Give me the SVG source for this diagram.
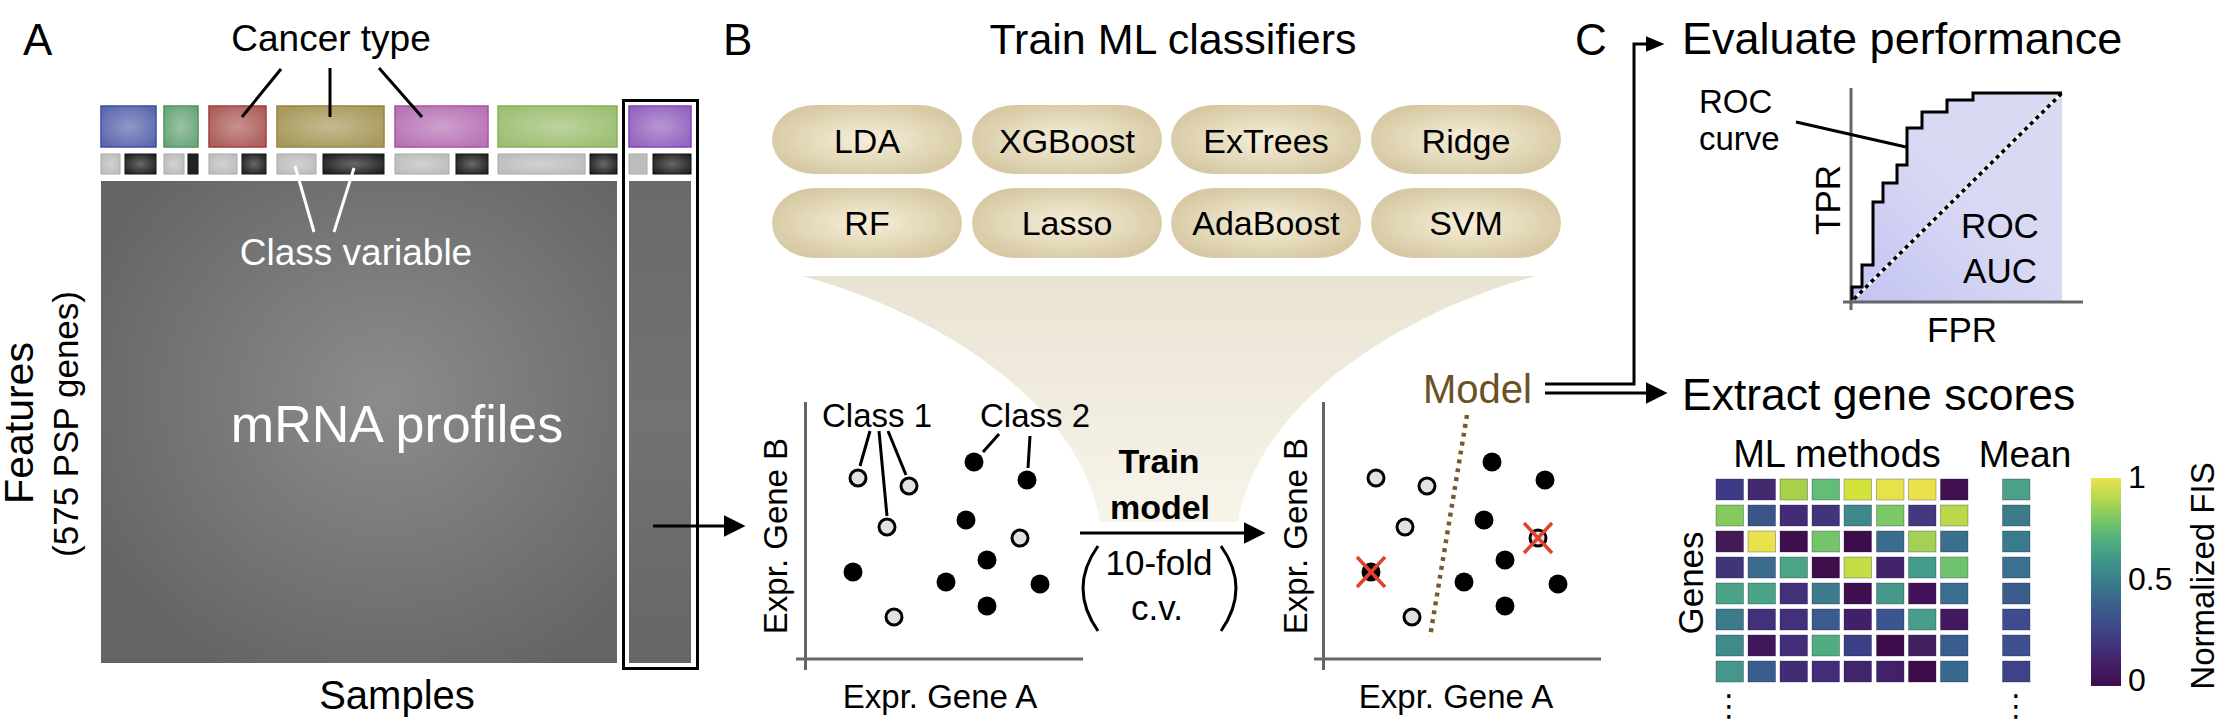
<svg xmlns="http://www.w3.org/2000/svg" width="2220" height="728" viewBox="0 0 2220 728">
<style>
text{font-family:'Liberation Sans',Arial,Helvetica,sans-serif;fill:#000}
.pl{font-size:44px}
.mid{text-anchor:middle}
.ax{stroke:#666;stroke-width:3;fill:none}
.ln{stroke:#000;stroke-width:3;fill:none}
.wl{stroke:#fff;stroke-width:3;fill:none}
.op{fill:#e2e2e2;stroke:#000;stroke-width:3}
.fd{fill:#000}
.rx{stroke:#e2422d;stroke-width:3.5}
.pt{font-size:34px;text-anchor:middle}
.lab{font-size:33px}
.sh{fill:url(#sheen)}
.lt{fill:#bdbdbd;stroke:#a8a8a8;stroke-width:1}
.dk{fill:#222;stroke:#111;stroke-width:1}
.hm rect{stroke:#14143c;stroke-opacity:.3;stroke-width:1}
</style>
<defs>
<radialGradient id="sheen" cx="0.5" cy="0.5" r="0.6">
<stop offset="0" stop-color="#fff" stop-opacity="0.32"/>
<stop offset="1" stop-color="#fff" stop-opacity="0"/>
</radialGradient>
<radialGradient id="mainG" cx="0.55" cy="0.45" r="0.65">
<stop offset="0" stop-color="#8c8c8c"/>
<stop offset="1" stop-color="#646464"/>
</radialGradient>
<linearGradient id="colG" x1="0" y1="0" x2="0" y2="1">
<stop offset="0" stop-color="#6a6a6a"/>
<stop offset="0.5" stop-color="#727272"/>
<stop offset="1" stop-color="#666"/>
</linearGradient>
<radialGradient id="pillG" cx="0.5" cy="0.5" r="0.55">
<stop offset="0" stop-color="#f6efda"/>
<stop offset="1" stop-color="#d6c9a3"/>
</radialGradient>
<linearGradient id="funG" x1="0" y1="0" x2="0" y2="1">
<stop offset="0" stop-color="#e9e3d2"/>
<stop offset="1" stop-color="#f7f4ea"/>
</linearGradient>
<linearGradient id="rocG" x1="0" y1="1" x2="1" y2="0">
<stop offset="0" stop-color="#c2c3f2"/>
<stop offset="0.5" stop-color="#d8d8f4"/>
<stop offset="1" stop-color="#dadaf2"/>
</linearGradient>
<linearGradient id="vir" x1="0" y1="0" x2="0" y2="1">
<stop offset="0" stop-color="#ebe24f"/>
<stop offset="0.1" stop-color="#b5d74e"/>
<stop offset="0.2" stop-color="#7ac765"/>
<stop offset="0.3" stop-color="#4fae80"/>
<stop offset="0.4" stop-color="#3f958a"/>
<stop offset="0.5" stop-color="#3b7b8b"/>
<stop offset="0.6" stop-color="#3b638c"/>
<stop offset="0.7" stop-color="#3d4b8a"/>
<stop offset="0.8" stop-color="#42357e"/>
<stop offset="0.9" stop-color="#431e65"/>
<stop offset="1" stop-color="#3f0c4e"/>
</linearGradient>
<marker id="ah" viewBox="0 0 22 22" markerWidth="22" markerHeight="22" refX="0.5" refY="11" orient="auto" markerUnits="userSpaceOnUse"><path d="M0,0 L22,11 L0,22z" fill="#000"/></marker>
<marker id="ahs" viewBox="0 0 19 16" markerWidth="19" markerHeight="16" refX="0.5" refY="8" orient="auto" markerUnits="userSpaceOnUse"><path d="M0,0 L19,8 L0,16z" fill="#000"/></marker>
</defs>
<rect width="2220" height="728" fill="#fff"/>

<!-- Panel labels -->
<text class="pl" x="23" y="55">A</text>
<text class="pl" x="723" y="55">B</text>
<text class="pl" x="1575" y="55">C</text>

<!-- Panel A -->
<g id="selection-box">
<rect x="623.5" y="100.5" width="74" height="568" fill="#fff" stroke="#000" stroke-width="3"/>
</g>
<g id="cancer-types">
<rect x="101" y="106" width="55" height="41" fill="#5d69ae" stroke="#3e4b9e" stroke-width="1.5"/>
<rect x="164" y="106" width="34" height="41" fill="#6aa77a" stroke="#4f9060" stroke-width="1.5"/>
<rect x="209" y="106" width="57" height="41" fill="#ad5f5c" stroke="#a03c3c" stroke-width="1.5"/>
<rect x="277" y="106" width="107" height="41" fill="#a89a5c" stroke="#93843c" stroke-width="1.5"/>
<rect x="395" y="106" width="93" height="41" fill="#b874b6" stroke="#a8509f" stroke-width="1.5"/>
<rect x="498" y="106" width="119" height="41" fill="#9ebf72" stroke="#88ad55" stroke-width="1.5"/>
<rect x="629" y="106" width="62" height="41" fill="#9565c0" stroke="#7e45b0" stroke-width="1.5"/>
<rect class="sh" x="101" y="106" width="55" height="41"/>
<rect class="sh" x="164" y="106" width="34" height="41"/>
<rect class="sh" x="209" y="106" width="57" height="41"/>
<rect class="sh" x="277" y="106" width="107" height="41"/>
<rect class="sh" x="395" y="106" width="93" height="41"/>
<rect class="sh" x="498" y="106" width="119" height="41"/>
<rect class="sh" x="629" y="106" width="62" height="41"/>
</g>
<g id="class-variable">
<rect class="lt" x="101" y="154" width="19" height="20"/>
<rect class="dk" x="125" y="154" width="31" height="20"/>
<rect class="lt" x="164" y="154" width="20" height="20"/>
<rect class="dk" x="188" y="154" width="10" height="20"/>
<rect class="lt" x="209" y="154" width="28" height="20"/>
<rect class="dk" x="242" y="154" width="24" height="20"/>
<rect class="lt" x="277" y="154" width="39" height="20"/>
<rect class="dk" x="323" y="154" width="61" height="20"/>
<rect class="lt" x="395" y="154" width="54" height="20"/>
<rect class="dk" x="456" y="154" width="32" height="20"/>
<rect class="lt" x="498" y="154" width="87" height="20"/>
<rect class="dk" x="590" y="154" width="27" height="20"/>
<rect class="lt" x="629" y="154" width="18" height="20"/>
<rect class="dk" x="653" y="154" width="38" height="20"/>
<rect class="sh" x="101" y="154" width="19" height="20"/>
<rect class="sh" x="125" y="154" width="31" height="20"/>
<rect class="sh" x="164" y="154" width="20" height="20"/>
<rect class="sh" x="209" y="154" width="28" height="20"/>
<rect class="sh" x="242" y="154" width="24" height="20"/>
<rect class="sh" x="277" y="154" width="39" height="20"/>
<rect class="sh" x="323" y="154" width="61" height="20"/>
<rect class="sh" x="395" y="154" width="54" height="20"/>
<rect class="sh" x="456" y="154" width="32" height="20"/>
<rect class="sh" x="498" y="154" width="87" height="20"/>
<rect class="sh" x="590" y="154" width="27" height="20"/>
<rect class="sh" x="653" y="154" width="38" height="20"/>
</g>
<g id="mrna-matrix">
<rect x="101" y="181" width="516" height="482" fill="url(#mainG)"/>
<text x="397" y="442" font-size="52" class="mid" style="fill:#fff">mRNA profiles</text>
</g>
<g id="sample-column">
<rect x="629" y="181" width="62" height="482" fill="url(#colG)"/>
</g>
<g id="labels-A">
<text x="331" y="51" font-size="37" class="mid">Cancer type</text>
<text x="356" y="265" font-size="37" class="mid" style="fill:#fff">Class variable</text>
<text x="397" y="709" font-size="40" class="mid">Samples</text>
<text transform="translate(33,423) rotate(-90)" font-size="41" class="mid">Features</text>
<text transform="translate(78,424) rotate(-90)" font-size="35" class="mid">(575 PSP genes)</text>
</g>
<g id="leaders-A">
<line class="ln" x1="281" y1="69" x2="242" y2="117"/>
<line class="ln" x1="330" y1="68" x2="330" y2="117"/>
<line class="ln" x1="379" y1="68" x2="422" y2="117"/>
<line class="wl" x1="295" y1="166" x2="314" y2="232"/>
<line class="wl" x1="354" y1="168" x2="334" y2="232"/>
</g>

<!-- Panel B -->
<g id="funnel">
<path d="M802,276 C930,310 1080,400 1100,522 L1238,522 C1258,400 1408,310 1536,276 Z" fill="url(#funG)"/>
</g>
<text x="1173" y="54" font-size="43" class="mid">Train ML classifiers</text>
<g id="classifiers">
<g id="pill-lda"><rect x="772" y="105" width="190" height="69" rx="42" ry="34.5" fill="url(#pillG)"/><text class="pt" x="867" y="153">LDA</text></g>
<g id="pill-xgboost"><rect x="972" y="105" width="190" height="69" rx="42" ry="34.5" fill="url(#pillG)"/><text class="pt" x="1067" y="153">XGBoost</text></g>
<g id="pill-extrees"><rect x="1171" y="105" width="190" height="69" rx="42" ry="34.5" fill="url(#pillG)"/><text class="pt" x="1266" y="153">ExTrees</text></g>
<g id="pill-ridge"><rect x="1371" y="105" width="190" height="69" rx="42" ry="34.5" fill="url(#pillG)"/><text class="pt" x="1466" y="153">Ridge</text></g>
<g id="pill-rf"><rect x="772" y="188" width="190" height="70" rx="42" ry="35" fill="url(#pillG)"/><text class="pt" x="867" y="235">RF</text></g>
<g id="pill-lasso"><rect x="972" y="188" width="190" height="70" rx="42" ry="35" fill="url(#pillG)"/><text class="pt" x="1067" y="235">Lasso</text></g>
<g id="pill-adaboost"><rect x="1171" y="188" width="190" height="70" rx="42" ry="35" fill="url(#pillG)"/><text class="pt" x="1266" y="235">AdaBoost</text></g>
<g id="pill-svm"><rect x="1371" y="188" width="190" height="70" rx="42" ry="35" fill="url(#pillG)"/><text class="pt" x="1466" y="235">SVM</text></g>
</g>

<g id="scatter-train">
<line class="ax" x1="805.5" y1="402" x2="805.5" y2="670"/>
<line class="ax" x1="796" y1="659" x2="1083" y2="659"/>
<text class="lab mid" x="877" y="427">Class 1</text>
<text class="lab mid" x="1035" y="427">Class 2</text>
<line class="ln" x1="870" y1="431" x2="860" y2="466"/>
<line class="ln" x1="879" y1="431" x2="887" y2="516"/>
<line class="ln" x1="888" y1="431" x2="906" y2="475"/>
<line class="ln" x1="999" y1="434" x2="983" y2="452"/>
<line class="ln" x1="1030" y1="436" x2="1028" y2="468"/>
<circle class="op" cx="858" cy="478" r="8"/>
<circle class="op" cx="909" cy="486" r="8"/>
<circle class="op" cx="887" cy="527" r="8"/>
<circle class="op" cx="1020" cy="538" r="8"/>
<circle class="op" cx="894" cy="617" r="8"/>
<circle class="fd" cx="974" cy="462" r="9.5"/>
<circle class="fd" cx="1027" cy="480" r="9.5"/>
<circle class="fd" cx="966" cy="520" r="9.5"/>
<circle class="fd" cx="987" cy="560" r="9.5"/>
<circle class="fd" cx="853" cy="572" r="9.5"/>
<circle class="fd" cx="946" cy="582" r="9.5"/>
<circle class="fd" cx="1040" cy="584" r="9.5"/>
<circle class="fd" cx="987" cy="606" r="9.5"/>
<text class="lab mid" transform="translate(787,536) rotate(-90)">Expr. Gene B</text>
<text class="lab mid" x="940" y="708">Expr. Gene A</text>
</g>

<g id="train-step">
<text x="1159" y="473" font-size="34" font-weight="bold" class="mid">Train</text>
<text x="1160" y="519" font-size="34" font-weight="bold" class="mid">model</text>
<text x="1159" y="575" font-size="35" class="mid">10-fold</text>
<text x="1157" y="620" font-size="35" class="mid">c.v.</text>
<path class="ln" d="M1098,546 Q1068,588 1098,631"/>
<path class="ln" d="M1221,546 Q1251,588 1221,631"/>
</g>

<g id="scatter-model">
<line class="ax" x1="1323.5" y1="402" x2="1323.5" y2="670"/>
<line class="ax" x1="1314" y1="659" x2="1601" y2="659"/>
<line x1="1467" y1="415" x2="1430" y2="637" stroke="#7a5a28" stroke-width="4.5" stroke-dasharray="4 5"/>
<circle class="op" cx="1376" cy="478" r="8"/>
<circle class="op" cx="1427" cy="486" r="8"/>
<circle class="op" cx="1405" cy="527" r="8"/>
<circle class="op" cx="1538" cy="538" r="8"/>
<circle class="op" cx="1412" cy="617" r="8"/>
<circle class="fd" cx="1492" cy="462" r="9.5"/>
<circle class="fd" cx="1545" cy="480" r="9.5"/>
<circle class="fd" cx="1484" cy="520" r="9.5"/>
<circle class="fd" cx="1505" cy="560" r="9.5"/>
<circle class="fd" cx="1371" cy="572" r="9.5"/>
<circle class="fd" cx="1464" cy="582" r="9.5"/>
<circle class="fd" cx="1558" cy="584" r="9.5"/>
<circle class="fd" cx="1505" cy="606" r="9.5"/>
<line class="rx" x1="1357" y1="557" x2="1385" y2="587"/>
<line class="rx" x1="1385" y1="557" x2="1357" y2="587"/>
<line class="rx" x1="1524" y1="523" x2="1552" y2="553"/>
<line class="rx" x1="1552" y1="523" x2="1524" y2="553"/>
<text class="lab mid" transform="translate(1307,536) rotate(-90)">Expr. Gene B</text>
<text class="lab mid" x="1456" y="708">Expr. Gene A</text>
<text x="1423" y="403" font-size="40" style="fill:#6b5124">Model</text>
</g>

<!-- Panel C -->
<g id="evaluate">
<text x="1682" y="54" font-size="45">Evaluate performance</text>
<path d="M1852,302 L1852,287 L1862,287 L1862,265 L1873,265 L1873,202 L1883,202 L1883,183 L1897,183 L1897,165 L1907,165 L1907,128 L1922,128 L1922,112 L1947,112 L1947,100 L1973,100 L1973,93 L2062,93 L2062,302 Z" fill="url(#rocG)"/>
<line class="ax" x1="1851" y1="88" x2="1851" y2="310"/>
<line class="ax" x1="1843" y1="302" x2="2083" y2="302"/>
<line x1="1854" y1="299" x2="2062" y2="93" stroke="#fff" stroke-width="3"/>
<line x1="1854" y1="299" x2="2062" y2="93" stroke="#000" stroke-width="3.5" stroke-dasharray="4 4"/>
<path class="ln" stroke-width="3.5" d="M1852,300 L1852,287 L1862,287 L1862,265 L1873,265 L1873,202 L1883,202 L1883,183 L1897,183 L1897,165 L1907,165 L1907,128 L1922,128 L1922,112 L1947,112 L1947,100 L1973,100 L1973,93 L2062,93"/>
<line class="ln" x1="1796" y1="122" x2="1906" y2="147"/>
<text x="1699" y="113" font-size="33">ROC</text>
<text x="1699" y="150" font-size="33">curve</text>
<text font-size="35" class="mid"><tspan x="2000" y="238">ROC</tspan><tspan x="2000" y="283">AUC</tspan></text>
<text x="1962" y="342" font-size="35" class="mid">FPR</text>
<text transform="translate(1840,200) rotate(-90)" font-size="35" class="mid">TPR</text>
</g>

<g id="gene-scores">
<text x="1682" y="410" font-size="44.5">Extract gene scores</text>
<text x="1837" y="467" font-size="38" class="mid">ML methods</text>
<text x="2025" y="467" font-size="37" class="mid">Mean</text>
<text transform="translate(1703,583) rotate(-90)" font-size="35" class="mid">Genes</text>
<g class="hm">
<rect x="1716" y="479" width="27.5" height="21" fill="#3e3a86"/><rect x="1748" y="479" width="27.5" height="21" fill="#44296f"/><rect x="1780" y="479" width="27.5" height="21" fill="#a5d14b"/><rect x="1812" y="479" width="27.5" height="21" fill="#63bd79"/><rect x="1844" y="479" width="27.5" height="21" fill="#d4e33c"/><rect x="1876.5" y="479" width="27.5" height="21" fill="#e6e24a"/><rect x="1908.5" y="479" width="27.5" height="21" fill="#ebe14b"/><rect x="1940.5" y="479" width="27.5" height="21" fill="#420f50"/>
<rect x="1716" y="505" width="27.5" height="21" fill="#86c95d"/><rect x="1748" y="505" width="27.5" height="21" fill="#3a5688"/><rect x="1780" y="505" width="27.5" height="21" fill="#432c75"/><rect x="1812" y="505" width="27.5" height="21" fill="#41347c"/><rect x="1844" y="505" width="27.5" height="21" fill="#3e8a8a"/><rect x="1876.5" y="505" width="27.5" height="21" fill="#7cc766"/><rect x="1908.5" y="505" width="27.5" height="21" fill="#43397f"/><rect x="1940.5" y="505" width="27.5" height="21" fill="#b9d84a"/>
<rect x="1716" y="531" width="27.5" height="21" fill="#441958"/><rect x="1748" y="531" width="27.5" height="21" fill="#e9e24d"/><rect x="1780" y="531" width="27.5" height="21" fill="#3f0f4d"/><rect x="1812" y="531" width="27.5" height="21" fill="#74c46a"/><rect x="1844" y="531" width="27.5" height="21" fill="#3d0c4c"/><rect x="1876.5" y="531" width="27.5" height="21" fill="#3b6b8d"/><rect x="1908.5" y="531" width="27.5" height="21" fill="#a3d155"/><rect x="1940.5" y="531" width="27.5" height="21" fill="#3a6f8e"/>
<rect x="1716" y="557" width="27.5" height="21" fill="#41357a"/><rect x="1748" y="557" width="27.5" height="21" fill="#3a6a8c"/><rect x="1780" y="557" width="27.5" height="21" fill="#4aa587"/><rect x="1812" y="557" width="27.5" height="21" fill="#3e0e4b"/><rect x="1844" y="557" width="27.5" height="21" fill="#c3dd45"/><rect x="1876.5" y="557" width="27.5" height="21" fill="#42236a"/><rect x="1908.5" y="557" width="27.5" height="21" fill="#449a8b"/><rect x="1940.5" y="557" width="27.5" height="21" fill="#6fc26e"/>
<rect x="1716" y="583" width="27.5" height="21" fill="#4aa386"/><rect x="1748" y="583" width="27.5" height="21" fill="#4aa387"/><rect x="1780" y="583" width="27.5" height="21" fill="#42307a"/><rect x="1812" y="583" width="27.5" height="21" fill="#3d7b8c"/><rect x="1844" y="583" width="27.5" height="21" fill="#3f0f4f"/><rect x="1876.5" y="583" width="27.5" height="21" fill="#46998a"/><rect x="1908.5" y="583" width="27.5" height="21" fill="#43105a"/><rect x="1940.5" y="583" width="27.5" height="21" fill="#3b6d8e"/>
<rect x="1716" y="609" width="27.5" height="21" fill="#3b7b8b"/><rect x="1748" y="609" width="27.5" height="21" fill="#42307a"/><rect x="1780" y="609" width="27.5" height="21" fill="#432f7c"/><rect x="1812" y="609" width="27.5" height="21" fill="#3a5b8c"/><rect x="1844" y="609" width="27.5" height="21" fill="#421f67"/><rect x="1876.5" y="609" width="27.5" height="21" fill="#3a5690"/><rect x="1908.5" y="609" width="27.5" height="21" fill="#479e8a"/><rect x="1940.5" y="609" width="27.5" height="21" fill="#42195e"/>
<rect x="1716" y="635" width="27.5" height="21" fill="#3f8b8a"/><rect x="1748" y="635" width="27.5" height="21" fill="#42165a"/><rect x="1780" y="635" width="27.5" height="21" fill="#432e7c"/><rect x="1812" y="635" width="27.5" height="21" fill="#50ad82"/><rect x="1844" y="635" width="27.5" height="21" fill="#3b3f86"/><rect x="1876.5" y="635" width="27.5" height="21" fill="#3e0b4b"/><rect x="1908.5" y="635" width="27.5" height="21" fill="#42215f"/><rect x="1940.5" y="635" width="27.5" height="21" fill="#3a5d90"/>
<rect x="1716" y="661" width="27.5" height="21" fill="#45968b"/><rect x="1748" y="661" width="27.5" height="21" fill="#3a5d8f"/><rect x="1780" y="661" width="27.5" height="21" fill="#432c76"/><rect x="1812" y="661" width="27.5" height="21" fill="#442d78"/><rect x="1844" y="661" width="27.5" height="21" fill="#42246b"/><rect x="1876.5" y="661" width="27.5" height="21" fill="#42206a"/><rect x="1908.5" y="661" width="27.5" height="21" fill="#3d0a4a"/><rect x="1940.5" y="661" width="27.5" height="21" fill="#3a698f"/>
<rect x="2002.5" y="479" width="27.5" height="21" fill="#4ba089"/>
<rect x="2002.5" y="505" width="27.5" height="21" fill="#3b7b8a"/>
<rect x="2002.5" y="531" width="27.5" height="21" fill="#3a7a8d"/>
<rect x="2002.5" y="557" width="27.5" height="21" fill="#3b7090"/>
<rect x="2002.5" y="583" width="27.5" height="21" fill="#3a5c8c"/>
<rect x="2002.5" y="609" width="27.5" height="21" fill="#3d4c8d"/>
<rect x="2002.5" y="635" width="27.5" height="21" fill="#3d4f8d"/>
<rect x="2002.5" y="661" width="27.5" height="21" fill="#3e4288"/>
</g>
<text x="1729" y="716" font-size="30" class="mid" style="font-family:'DejaVu Sans',sans-serif">⋮</text>
<text x="2016" y="716" font-size="30" class="mid" style="font-family:'DejaVu Sans',sans-serif">⋮</text>
<rect x="2091" y="478" width="30" height="208" fill="url(#vir)"/>
<text x="2128" y="488" font-size="32">1</text>
<text x="2128" y="590" font-size="32">0.5</text>
<text x="2128" y="691" font-size="32">0</text>
<text transform="translate(2214,576) rotate(-90)" font-size="33" class="mid">Normalized FIS</text>
</g>

<!-- Connectors -->
<g id="connectors">
<path class="ln" d="M653,526 L724,526" marker-end="url(#ah)"/>
<path class="ln" d="M1080,533 L1244,533" marker-end="url(#ah)"/>
<path class="ln" stroke-linejoin="miter" d="M1545,384 L1634,384 L1634,44 L1646,44" marker-end="url(#ahs)"/>
<path class="ln" d="M1545,393 L1646,393" marker-end="url(#ah)"/>
</g>
</svg>
